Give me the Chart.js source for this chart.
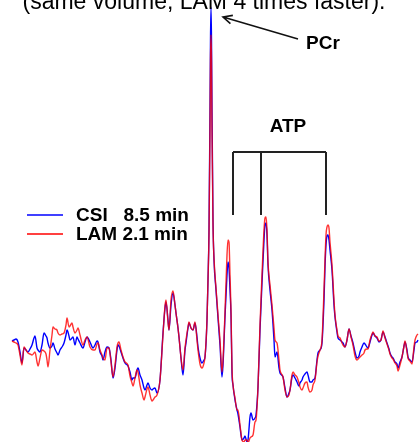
<!DOCTYPE html>
<html>
<head>
<meta charset="utf-8">
<script src="https://cdn.jsdelivr.net/npm/chart.js@4/dist/chart.umd.min.js"></script>
<style>
  html, body { margin: 0; padding: 0; background: #fff; }
  #wrap { width: 419px; height: 442px; position: relative; }
</style>
</head>
<body>
<div id="wrap"><canvas id="spectrum"></canvas></div>
<script>
// frequency bins (spectral points) and signal amplitude (a.u.)
const bins = [12, 14, 16, 18, 20, 22, 24, 26, 28, 30, 32, 34, 35, 37, 38, 40, 42, 44, 46, 47, 48, 50, 52, 53, 55, 57, 58, 60, 62, 64, 66, 67, 69, 70, 72, 73, 75, 77, 78, 80, 83, 85, 87, 90, 93, 95, 97, 98, 100, 102, 103, 105, 107, 109, 111, 113, 115, 117, 118, 119, 121, 123, 125, 128, 130, 132, 133, 135, 137, 138, 140, 142, 144, 145, 147, 148, 150, 152, 153, 155, 157, 160, 163, 165, 166, 168, 169, 171, 173, 175, 176, 178, 179, 181, 183, 185, 186, 188, 189, 191, 193, 195, 197, 198, 200, 202, 204, 205, 207, 208, 209, 210, 210.5, 211, 211.5, 212, 213, 214, 216, 218, 220, 222, 223, 225, 227, 228, 229, 230, 231, 232, 233, 235, 237, 238, 240, 242, 244, 245, 247, 248, 250, 251, 253, 255, 256, 258, 260, 262, 264, 265, 266, 267, 268, 270, 272, 274, 275, 277, 279, 280, 283, 285, 287, 289, 290, 292, 293, 295, 297, 299, 300, 302, 303, 305, 307, 308, 310, 312, 313, 315, 317, 318, 320, 322, 324, 325, 326, 327, 328, 329, 330, 332, 334, 335, 337, 338, 340, 342, 343, 345, 347, 349, 351, 353, 355, 357, 359, 360, 362, 364, 365, 367, 368, 370, 372, 373, 375, 377, 379, 381, 383, 385, 387, 389, 390, 392, 393, 395, 397, 398, 400, 402, 404, 405, 407, 408, 410, 412, 414, 415, 417, 418];

const csi = [9, 10, 11, 8, -2, -13, 2, 0, -2, 1, 5, 12, 14, 2, 0, -2, 5, 17, 14, 12, 7, 2, 4, 7, 1, -3, -5, 0, 3, 7, 15, 20, 14, 10, 12, 13, 5, 13, 11, 7, 2, 8, 13, 8, 2, 5, 9, 8, -2, -6, -10, -2, 3, 2, -10, -28, -18, 0, 5, 4, -2, -8, -13, -16, -22, -30, -28, -28, -20, -18, -25, -30, -38, -40, -35, -33, -38, -40, -39, -38, -43, -30, 17, 42, 48, 30, 20, 45, 57, 45, 37, 22, 13, -8, -25, 0, 7, 22, 27, 22, 20, 27, 13, 3, -8, -13, -10, -7, 30, 70, 120, 240, 310, 343, 310, 240, 130, 90, 60, 32, 5, -27, -15, 33, 75, 88, 82, 60, 35, -23, -35, -50, -60, -64, -77, -90, -88, -86, -92, -90, -67, -63, -70, -68, -65, -37, 20, 67, 110, 125, 127, 115, 85, 60, 40, 10, -7, -2, -18, -23, -27, -38, -47, -43, -40, -27, -25, -28, -32, -36, -33, -30, -27, -24, -22, -25, -32, -32, -30, -28, -10, -3, 0, 7, 50, 83, 105, 114, 115, 110, 100, 80, 45, 33, 18, 12, 10, 8, 7, 3, 10, 21, 14, 7, -2, -8, -6, -2, 3, 7, 6, 3, 2, 8, 15, 17, 14, 12, 8, 10, 18, 13, 7, 1, -3, -7, -8, -12, -14, -18, -12, -7, 4, 8, 0, -7, -10, -12, 0, 7, 8, 10];

const lam = [9, 8, 7, 5, -5, -15, 3, 0, -3, -4, -5, -3, -2, -12, -16, -8, 0, -1, -4, -10, -17, 0, 15, 23, 21, 20, 17, 15, 16, 17, 25, 32, 23, 24, 27, 23, 17, 20, 22, 15, 5, 10, 13, 3, 0, 0, 6, 7, 0, -5, -8, -10, 2, 2, -12, -27, -15, 3, 7, 8, 0, -7, -12, -15, -26, -33, -36, -28, -20, -22, -35, -43, -50, -47, -39, -37, -45, -51, -50, -47, -45, -30, 15, 44, 50, 28, 20, 50, 59, 45, 37, 22, 13, -8, -20, 2, 10, 23, 28, 22, 20, 28, 10, 0, -14, -18, -13, -7, 30, 70, 115, 220, 290, 315, 290, 220, 125, 92, 62, 35, 10, -22, -10, 38, 95, 110, 108, 75, 40, -18, -35, -48, -60, -60, -75, -90, -92, -90, -90, -93, -88, -87, -85, -72, -70, -37, 25, 75, 120, 132, 133, 120, 88, 65, 45, 22, 10, 7, -10, -20, -27, -40, -47, -45, -40, -25, -22, -25, -27, -33, -37, -40, -38, -33, -32, -37, -42, -40, -35, -30, -12, -6, 0, 10, 60, 90, 115, 123, 125, 122, 108, 85, 50, 35, 20, 14, 12, 7, 5, 3, 10, 21, 13, 5, -6, -10, -8, -7, -5, -3, 0, 1, 1, 10, 16, 18, 14, 13, 9, 10, 19, 12, 6, 0, -4, -8, -9, -13, -16, -21, -15, -7, 4, 9, -2, -8, -11, -14, 3, 10, 15, 16];

const seriesNames = ['CSI   8.5 min', 'LAM 2.1 min'];
const seriesColors = ['#0000ff', '#ff0000'];
const titleText = '(same volume, LAM 4 times faster).';

// annotation anchors in data units [bin, amplitude]
const pcrArrow = { tip: [223, 333], tail: [298, 311], label: [323, 306] };
const atpLegs = [233, 261, 326];
const atpBar = 198, atpLegEnd = 135, atpLabel = [288, 223];

const FONT = '"Liberation Sans", Arial, sans-serif';

const overlay = {
  id: 'overlay',
  afterDatasetsDraw(chart) {
    const ctx = chart.ctx;
    const xs = chart.scales.x, ys = chart.scales.y;
    const px = v => xs.getPixelForValue(v);
    const py = v => ys.getPixelForValue(v);
    ctx.save();

    // title (partly cut off at the top)
    ctx.fillStyle = '#000';
    ctx.font = '23px ' + FONT;
    ctx.textAlign = 'center';
    ctx.textBaseline = 'alphabetic';
    ctx.fillText(titleText, 204, 8.5);

    // PCr arrow
    const tx = px(pcrArrow.tip[0]), ty = py(pcrArrow.tip[1]);
    const sx = px(pcrArrow.tail[0]), sy = py(pcrArrow.tail[1]);
    ctx.strokeStyle = '#111';
    ctx.lineWidth = 1.6;
    ctx.beginPath();
    ctx.moveTo(sx, sy);
    ctx.lineTo(tx, ty);
    const ang = Math.atan2(sy - ty, sx - tx);
    ctx.moveTo(tx + 10 * Math.cos(ang - 0.45), ty + 10 * Math.sin(ang - 0.45));
    ctx.lineTo(tx, ty);
    ctx.lineTo(tx + 10 * Math.cos(ang + 0.45), ty + 10 * Math.sin(ang + 0.45));
    ctx.stroke();

    ctx.font = 'bold 19px ' + FONT;
    ctx.textBaseline = 'middle';
    ctx.fillText('PCr', px(pcrArrow.label[0]), py(pcrArrow.label[1]));

    // ATP bracket
    ctx.strokeStyle = '#222';
    ctx.lineWidth = 2;
    ctx.beginPath();
    ctx.moveTo(px(atpLegs[0]), py(atpBar));
    ctx.lineTo(px(atpLegs[atpLegs.length - 1]), py(atpBar));
    atpLegs.forEach(b => {
      ctx.moveTo(px(b), py(atpBar));
      ctx.lineTo(px(b), py(atpLegEnd));
    });
    ctx.stroke();
    ctx.fillText('ATP', px(atpLabel[0]), py(atpLabel[1]));

    // legend
    ctx.textAlign = 'left';
    seriesNames.forEach((name, i) => {
      const y = 215 + i * 19;
      ctx.strokeStyle = seriesColors[i];
      ctx.lineWidth = 1.5;
      ctx.beginPath();
      ctx.moveTo(27, y);
      ctx.lineTo(63, y);
      ctx.stroke();
      ctx.fillStyle = '#000';
      ctx.fillText(name, 76, y + 1);
    });

    ctx.restore();
  }
};

function makeSet(label, values, color, order) {
  return {
    label: label,
    data: bins.map((b, i) => ({ x: b, y: values[i] })),
    borderColor: color,
    borderWidth: 1.4,
    pointRadius: 0,
    cubicInterpolationMode: 'monotone',
    fill: false,
    clip: false,
    order: order
  };
}

new Chart(document.getElementById('spectrum'), {
  type: 'line',
  data: {
    datasets: [
      makeSet(seriesNames[0], csi, seriesColors[0], 1),
      makeSet(seriesNames[1], lam, 'rgba(255,0,0,0.8)', 0)
    ]
  },
  options: {
    responsive: true,
    maintainAspectRatio: false,
    animation: false,
    layout: { padding: 0 },
    plugins: {
      legend: { display: false },
      title: { display: false },
      tooltip: { enabled: false }
    },
    scales: {
      x: { type: 'linear', min: 0, max: 419, display: false },
      y: { min: -92, max: 350, display: false }
    }
  },
  plugins: [overlay]
});
</script>
</body>
</html>
